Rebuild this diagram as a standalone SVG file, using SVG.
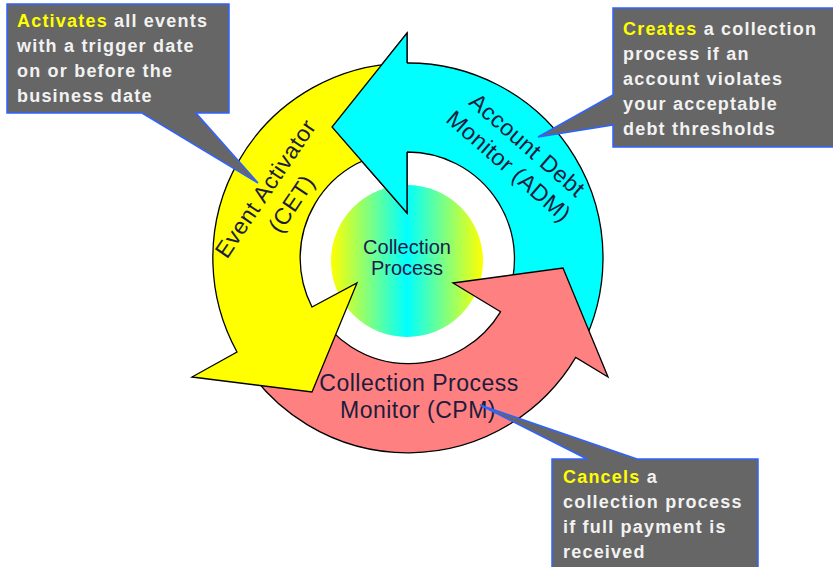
<svg xmlns="http://www.w3.org/2000/svg" width="833" height="567" viewBox="0 0 833 567">
<style>
.arrow{stroke:#000;stroke-width:1.3;stroke-linejoin:miter}
.lbl{font-family:"Liberation Sans",Arial,sans-serif;font-size:23px;fill:#1c1c3c;letter-spacing:0.5px}
.ctr{font-family:"Liberation Sans",Arial,sans-serif;font-size:20px;fill:#1c1c4a;text-anchor:middle}
.call{fill:#666666;stroke:#2f63ff;stroke-width:1.5}
.ct{font-family:"Liberation Sans",Arial,sans-serif;font-size:18px;font-weight:bold;fill:#f2f2f2;letter-spacing:1.2px}
.hl{fill:#ffff00}
</style>
<defs>
<linearGradient id="cg" x1="0" y1="0" x2="1" y2="0">
<stop offset="0" stop-color="#ffff00"/>
<stop offset="0.5" stop-color="#00ffff"/>
<stop offset="1" stop-color="#ffff00"/>
</linearGradient>
</defs>
<rect width="833" height="567" fill="#ffffff"/>
<g id="center">
<circle cx="407" cy="261" r="76" fill="url(#cg)"/>
</g>
<g id="connectors">
<path id="adm-arrow" class="arrow" fill="#00ffff" d="M502.5,308.2 L580.2,349.5 A195 195 0 0 0 407,63 L407,33 L332,127 L407,213 L407,152 A107 107 0 0 1 502.5,308.2 Z"/>
<path id="cpm-arrow" class="arrow" fill="#ff8080" d="M500.5,311.8 L453,283 L563,268 L608,377 L575.7,357.4 A195 195 0 0 1 242,360 L316,310 A107 107 0 0 0 500.5,311.8 Z"/>
<path id="cet-arrow" class="arrow" fill="#ffff00" d="M312,307 L357,283 L312,392 L192,377 L237,352 A195 195 0 0 1 401.2,63.1 L404.3,151.1 A107 107 0 0 0 312,307 Z"/>
<path id="adm-head" class="arrow" fill="#00ffff" d="M407,63 L407,33 L332,127 L407,213 L407,152"/>
</g>
<g id="center-label">
<text class="ctr" x="407" y="254">Collection</text>
<text class="ctr" x="407" y="275">Process</text>
</g>
<g id="cet-label">
<text class="lbl" text-anchor="middle" transform="translate(272,193) rotate(-56)">Event Activator</text>
<text class="lbl" text-anchor="middle" transform="translate(272,193) rotate(-56)" x="2" y="30">(CET)</text>
</g>
<g id="adm-label">
<text class="lbl" text-anchor="middle" transform="translate(522,151) rotate(41)">Account Debt</text>
<text class="lbl" text-anchor="middle" transform="translate(522,151) rotate(41)" x="0" y="28">Monitor (ADM)</text>
</g>
<g id="cpm-label">
<text class="lbl" text-anchor="middle" x="419" y="391">Collection Process</text>
<text class="lbl" text-anchor="middle" x="418" y="418">Monitor (CPM)</text>
</g>
<g id="callout-cet">
<path class="call" d="M7,4 H229 V113 H196 L258,183 L142,113 H7 Z"/>
<text class="ct" x="17" y="27"><tspan class="hl">Activates</tspan> all events</text>
<text class="ct" x="17" y="52">with a trigger date</text>
<text class="ct" x="17" y="77">on or before the</text>
<text class="ct" x="17" y="102">business date</text>
</g>
<g id="callout-adm">
<path class="call" d="M613,8 H840 V147 H613 V125 L538,137 L613,95 Z"/>
<text class="ct" x="623" y="35"><tspan class="hl">Creates</tspan> a collection</text>
<text class="ct" x="623" y="60">process if an</text>
<text class="ct" x="623" y="85">account violates</text>
<text class="ct" x="623" y="110">your acceptable</text>
<text class="ct" x="623" y="135">debt thresholds</text>
</g>
<g id="callout-cpm">
<path class="call" d="M552,459 H587 L480,405 L637,459 H758 V572 H552 Z"/>
<text class="ct" x="563" y="483"><tspan class="hl">Cancels</tspan> a</text>
<text class="ct" x="563" y="508">collection process</text>
<text class="ct" x="563" y="533">if full payment is</text>
<text class="ct" x="563" y="558">received</text>
</g>
</svg>
